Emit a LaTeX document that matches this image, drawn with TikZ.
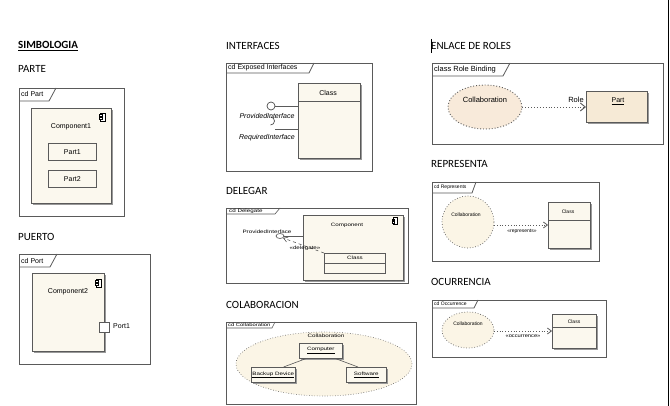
\documentclass[tikz,border=0pt]{standalone}
\usepackage{fontspec}
\setmainfont{Liberation Sans}
\newfontfamily\calfont{Carlito}
\usetikzlibrary{arrows.meta,shadows,calc,shapes.geometric}
\definecolor{cream}{HTML}{FBF8EE}
\definecolor{peach}{HTML}{F8EADA}
\definecolor{partfill}{HTML}{F6EAD6}
\definecolor{collfill}{HTML}{FBF5E6}
\definecolor{lnc}{HTML}{5A5A5A}
\newcommand\wdx[1]{\scalebox{1.3}[1]{#1}}
\begin{document}
\begin{tikzpicture}[x=1pt,y=-1pt,
  head/.style={font=\calfont\fontsize{11}{13}\selectfont, inner sep=0, anchor=base west},
  lbl/.style={font=\fontsize{7}{8}\selectfont, inner sep=0},
  sml/.style={font=\fontsize{5}{6}\selectfont, inner sep=0},
  tny/.style={font=\fontsize{4.8}{5.5}\selectfont, inner sep=0},
  frm/.style={draw=lnc, line width=0.8},
  flbl/.style={font=\fontsize{7}{8}\selectfont, inner sep=0, anchor=west},
  comp/.style={draw=lnc, fill=cream, line width=0.8, inner sep=0, anchor=north west,
     drop shadow={shadow xshift=1.5pt, shadow yshift=-1.5pt, fill=black!40, opacity=1}},
  pbox/.style={draw=lnc, line width=0.7, inner sep=0, anchor=north west},
  dotl/.style={draw=lnc, line width=0.8, dotted},
  cicon/.pic={\draw[fill=white,line width=0.6] (-2.5,-4) rectangle (2.5,4);
     \draw[fill=white,line width=0.6] (-4,-2.6) rectangle (-1,-0.8);
     \draw[fill=white,line width=0.6] (-4,0.8) rectangle (-1,2.6);}
]
\useasboundingbox (0,0) rectangle (670,406);
\fill[white] (0,0) rectangle (670,406);
\draw[line width=1] (668,0) -- (668,406);

% headings
\node[head] (h1) at (18,49) {\underline{\textbf{SIMBOLOGIA}}};
\node[head] (h2) at (18,72.5) {PARTE};
\node[head] (h3) at (18,240.5) {PUERTO};
\node[head] (h4) at (226,49.5) {INTERFACES};
\node[head] (h5) at (226,194.5) {DELEGAR};
\node[head] (h6) at (226,308.5) {COLABORACION};
\node[head] (h7) at (431,49.5) {ENLACE DE ROLES};
\node[head] (h8) at (431,167.5) {REPRESENTA};
\node[head] (h9) at (431,285.5) {OCURRENCIA};
\draw[line width=1.3] (431.5,39) -- (431.5,53);

% ---------- cd Part
\draw[frm] (19,88) rectangle (124,216);
\draw[frm] (19,101) -- (49,101) -- (56,88);
\node[flbl] (fl1) at (21,94.5) {cd Part};
\node[comp, minimum width=80, minimum height=95] (comp1) at (31,108) {};
\pic at (103,117) {cicon};
\node[lbl] (c1l) at (71,127) {Component1};
\node[pbox, fill=cream, minimum width=48, minimum height=17] (part1) at (48,143) {};
\node[lbl] at (part1.center) {Part1};
\node[pbox, fill=cream, minimum width=48, minimum height=17] (part2) at (48,170) {};
\node[lbl] at (part2.center) {Part2};

% ---------- cd Port
\draw[frm] (19,254) rectangle (150,364);
\draw[frm] (19,267) -- (50,267) -- (57,254);
\node[flbl] (fl2) at (21,260.5) {cd Port};
\node[comp, minimum width=72, minimum height=78] (comp2) at (32,273) {};
\pic at (99,283) {cicon};
\node[lbl] (c2l) at (68,292) {Component2};
\node[pbox, fill=white, minimum width=10, minimum height=10] (port1) at (99,322) {};
\node[lbl, anchor=west] (p1l) at (113,326) {Port1};

% ---------- cd Exposed Interfaces
\draw[frm] (226,63) rectangle (372,171);
\draw[frm] (226,73) -- (309,73) -- (314,63);
\node[flbl] (fl3) at (228,68) {cd Exposed Interfaces};
\node[comp, minimum width=62, minimum height=75] (cls1) at (298,83) {};
\draw[draw=lnc, line width=0.7] (298,101) -- (360,101);
\node[lbl] (cls1l) at (328,93) {Class};
\node[circle, draw=black!70, fill=white, line width=0.7, minimum size=8, inner sep=0] (prov) at (271,106) {};
\draw[lnc, line width=0.8] (prov.east) -- (prov -| cls1.west);
\coordinate (req) at (275,129);
\draw[black!70, line width=0.7] (270.5,125) arc[start angle=90, end angle=-90, radius=4];
\draw[lnc, line width=0.8] (req) -- (req -| cls1.west);
\node[lbl, font=\fontsize{7}{8}\selectfont\itshape] (provl) at (267,116) {ProvidedInterface};
\node[lbl, font=\fontsize{7}{8}\selectfont\itshape] (reql) at (267,138) {RequiredInterface};

% ---------- cd Delegate
\draw[frm, line width=0.6] (226,208) rectangle (408,283);
\draw[frm, line width=0.6] (226,214) -- (275,214) -- (280,208);
\node[tny, anchor=west] (fl4) at (229,211) {\wdx{cd Delegate}};
\node[comp, line width=0.6, minimum width=100, minimum height=65] (comp3) at (303,215) {};
\pic[scale=0.8] at (395,221) {cicon};
\node[tny] (c3l) at (347,225) {\wdx{Component}};
\node[pbox, line width=0.6, minimum width=61, minimum height=20] (cls2) at (324,253) {};
\draw[lnc, line width=0.6] (324,263) -- (385,263);
\node[tny] (cls2l) at (355,258) {\wdx{Class}};
\node[ellipse, draw=black!70, fill=white, line width=0.6, minimum width=8, minimum height=5, inner sep=0] (dlol) at (280,236) {};
\draw[lnc, line width=0.6] (dlol.east) -- (dlol -| comp3.west);
\node[tny] (dprovl) at (267,231.5) {\wdx{ProvidedInterface}};
\draw[lnc, line width=0.6, dashed, -{Straight Barb[length=4pt,width=5pt]}] (cls2.north west) -- (dlol.south east);
\node[tny] (dell) at (305,248) {\wdx{«delegate»}};

% ---------- cd Collaboration
\draw[frm, line width=0.6] (226,322) rectangle (416,404);
\draw[frm, line width=0.6] (226,328) -- (272,328) -- (275,322);
\node[tny, font=\fontsize{4.5}{5}\selectfont, anchor=west] (fl5) at (228,325) {\wdx{cd Collaboration}};
\node[ellipse, draw=lnc, dotted, fill=collfill, line width=0.6, minimum width=176, minimum height=64, inner sep=0] (coll5) at (324,364) {};
\node[tny] (coll5l) at (326,336) {\wdx{Collaboration}};
\node[comp, line width=0.6, fill=cream, minimum width=43, minimum height=15] (computer) at (299,343) {};
\node[tny] at (computer.center) {\wdx{\underline{Computer}}};
\node[comp, line width=0.6, fill=cream, minimum width=44, minimum height=15] (backup) at (251,367) {};
\node[tny] at (backup.center) {\wdx{\underline{Backup Device}}};
\node[comp, line width=0.6, fill=cream, minimum width=40, minimum height=15] (soft) at (346,367) {};
\node[tny] at (soft.center) {\wdx{\underline{Software}}};
\draw[lnc, line width=0.6] ($(computer.south west)+(7,0)$) -- ($(backup.north east)+(-12,0)$);
\draw[lnc, line width=0.6] ($(computer.south east)+(-7,0)$) -- ($(soft.north west)+(12,0)$);

% ---------- class Role Binding
\draw[frm] (432,63) rectangle (663,144);
\draw[frm] (432,76) -- (503,76) -- (510,63);
\node[flbl, font=\fontsize{7.5}{8}\selectfont] (fl6) at (434,69.5) {class Role Binding};
\node[ellipse, draw=lnc, dotted, line width=0.9, fill=peach, minimum width=74, minimum height=44, inner sep=0] (coll6) at (485,107) {};
\node[lbl, font=\fontsize{7.5}{8}\selectfont] (coll6l) at (485,100) {Collaboration};
\node[comp, fill=partfill, minimum width=61, minimum height=31] (part6) at (586,91) {};
\node[lbl] (part6l) at (618,101) {\underline{Part}};
\draw[lnc, line width=0.9, dotted, -{Straight Barb[length=5pt,width=8pt]}] (coll6.east) -- (coll6 -| part6.west);
\node[lbl, font=\fontsize{7.5}{8}\selectfont] (rolel) at (576,100) {Role};

% ---------- cd Represents
\draw[frm] (432,182) rectangle (599,261);
\draw[frm] (432,193) -- (472,193) -- (476,182);
\node[sml, anchor=west] (fl7) at (434,187.5) {cd Represents};
\node[circle, draw=lnc, dotted, line width=0.7, fill=collfill, minimum size=52, inner sep=0] (coll7) at (468,222) {};
\node[sml] (coll7l) at (466,215) {Collaboration};
\node[comp, minimum width=42, minimum height=46] (cls7) at (548,202) {};
\draw[lnc, line width=0.7] (548,220) -- (590,220);
\node[sml] (cls7l) at (568,212) {Class};
\coordinate (r7) at (494,225);
\draw[lnc, line width=0.8, dotted, -{Straight Barb[length=4pt,width=6pt]}] (r7) -- (r7 -| cls7.west);
\node[sml] (repl) at (522,231) {«represents»};

% ---------- cd Occurrence
\draw[frm] (432,300) rectangle (606,357);
\draw[frm] (432,308) -- (474,308) -- (478,300);
\node[sml, anchor=west] (fl8) at (434,304) {cd Occurrence};
\node[ellipse, draw=lnc, dotted, line width=0.7, fill=collfill, minimum width=52, minimum height=36, inner sep=0] (coll8) at (468,330) {};
\node[sml] (coll8l) at (468,324) {Collaboration};
\node[comp, minimum width=44, minimum height=34] (cls8) at (552,314) {};
\draw[lnc, line width=0.7] (552,327) -- (596,327);
\node[sml] (cls8l) at (574,322) {Class};
\coordinate (r8) at (494,331);
\draw[lnc, line width=0.8, dotted, -{Straight Barb[length=4pt,width=6pt]}] (r8) -- (r8 -| cls8.west);
\node[sml] (occl) at (523,336.5) {\scalebox{1.15}[1]{«occurrence»}};
\end{tikzpicture}
\end{document}
